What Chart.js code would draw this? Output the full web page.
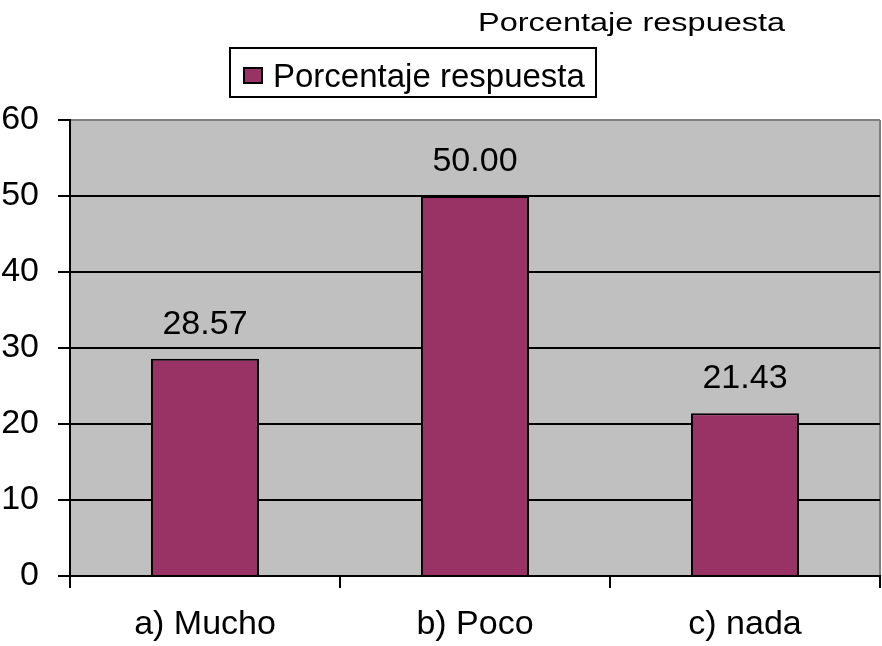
<!DOCTYPE html>
<html>
<head>
<meta charset="utf-8">
<script src="https://cdn.jsdelivr.net/npm/chart.js@4.4.1/dist/chart.umd.min.js"></script>
<style>
  body { margin: 0; background: #fff; }
  canvas { display: block; }
</style>
</head>
<body>
<canvas id="chart" width="882" height="646"></canvas>
<script>
// Data
const categories = ['a) Mucho', 'b) Poco', 'c) nada'];
const porcentaje = [28.57, 50.00, 21.43];
const yTicks = [0, 10, 20, 30, 40, 50, 60];
const seriesName = 'Porcentaje respuesta';
const chartTitle = 'Porcentaje respuesta';

const FONT = '"Liberation Sans", Arial, sans-serif';

// gray plot area + right border
const plotBackground = {
    id: 'plotBackground',
    beforeDraw(chart) {
        const { ctx, chartArea: a } = chart;
        ctx.save();
        ctx.fillStyle = '#C0C0C0';
        ctx.fillRect(a.left, a.top, a.right - a.left, a.bottom - a.top);
        ctx.strokeStyle = '#808080';
        ctx.lineWidth = 2;
        ctx.beginPath();
        ctx.moveTo(a.right, a.top);
        ctx.lineTo(a.right, a.bottom);
        ctx.stroke();
        ctx.restore();
    }
};

// value labels above bars
const barLabels = {
    id: 'barLabels',
    afterDatasetsDraw(chart) {
        const { ctx } = chart;
        const meta = chart.getDatasetMeta(0);
        ctx.save();
        ctx.fillStyle = '#000';
        ctx.font = '34px ' + FONT;
        ctx.textAlign = 'center';
        ctx.textBaseline = 'alphabetic';
        meta.data.forEach((bar, i) => {
            ctx.fillText(porcentaje[i].toFixed(2), bar.x, bar.y - 25);
        });
        ctx.restore();
    }
};

// title and boxed legend
const header = {
    id: 'header',
    afterDraw(chart) {
        const { ctx } = chart;
        const ds = chart.data.datasets[0];
        ctx.save();
        ctx.fillStyle = '#000';
        ctx.textAlign = 'left';
        ctx.textBaseline = 'alphabetic';

        ctx.save();
        ctx.translate(478, 31);
        ctx.scale(1, 0.8);
        ctx.font = '32.5px ' + FONT;
        ctx.fillText(chartTitle, 0, 0);
        ctx.restore();

        ctx.lineWidth = 2;
        ctx.strokeStyle = '#000';
        ctx.strokeRect(230, 48, 366, 49);
        ctx.fillStyle = ds.backgroundColor;
        ctx.fillRect(244, 68, 18, 15);
        ctx.strokeRect(244, 68, 18, 15);
        ctx.fillStyle = '#000';
        ctx.font = '33px ' + FONT;
        ctx.fillText(ds.label, 273, 87);
        ctx.restore();
    }
};

new Chart(document.getElementById('chart'), {
    type: 'bar',
    data: {
        labels: categories,
        datasets: [{
            label: seriesName,
            data: porcentaje,
            backgroundColor: '#993366',
            borderColor: '#000',
            borderWidth: 2,
            barPercentage: 0.4,
            categoryPercentage: 1.0
        }]
    },
    options: {
        responsive: false,
        animation: false,
        layout: { padding: { top: 120, right: 2, left: 0, bottom: 0 } },
        plugins: {
            legend: { display: false },
            title: { display: false },
            tooltip: { enabled: false }
        },
        scales: {
            x: {
                afterFit(scale) { scale.height = 70; },
                grid: {
                    offset: true,
                    drawOnChartArea: false,
                    color: '#000',
                    lineWidth: 2,
                    tickLength: 12
                },
                border: { color: '#000', width: 2 },
                ticks: { color: '#000', font: { family: FONT, size: 34 }, padding: 16 }
            },
            y: {
                min: yTicks[0],
                max: yTicks[yTicks.length - 1],
                afterFit(scale) { scale.width = 70; },
                grid: {
                    color: ctx => (ctx.tick && ctx.tick.value === yTicks[yTicks.length - 1]) ? '#808080' : '#000',
                    tickColor: '#000',
                    lineWidth: 2,
                    tickLength: 12
                },
                border: { color: '#000', width: 2 },
                ticks: {
                    stepSize: yTicks[1] - yTicks[0],
                    color: '#000',
                    font: { family: FONT, size: 34 },
                    padding: 19
                }
            }
        }
    },
    plugins: [plotBackground, barLabels, header]
});
</script>
</body>
</html>
